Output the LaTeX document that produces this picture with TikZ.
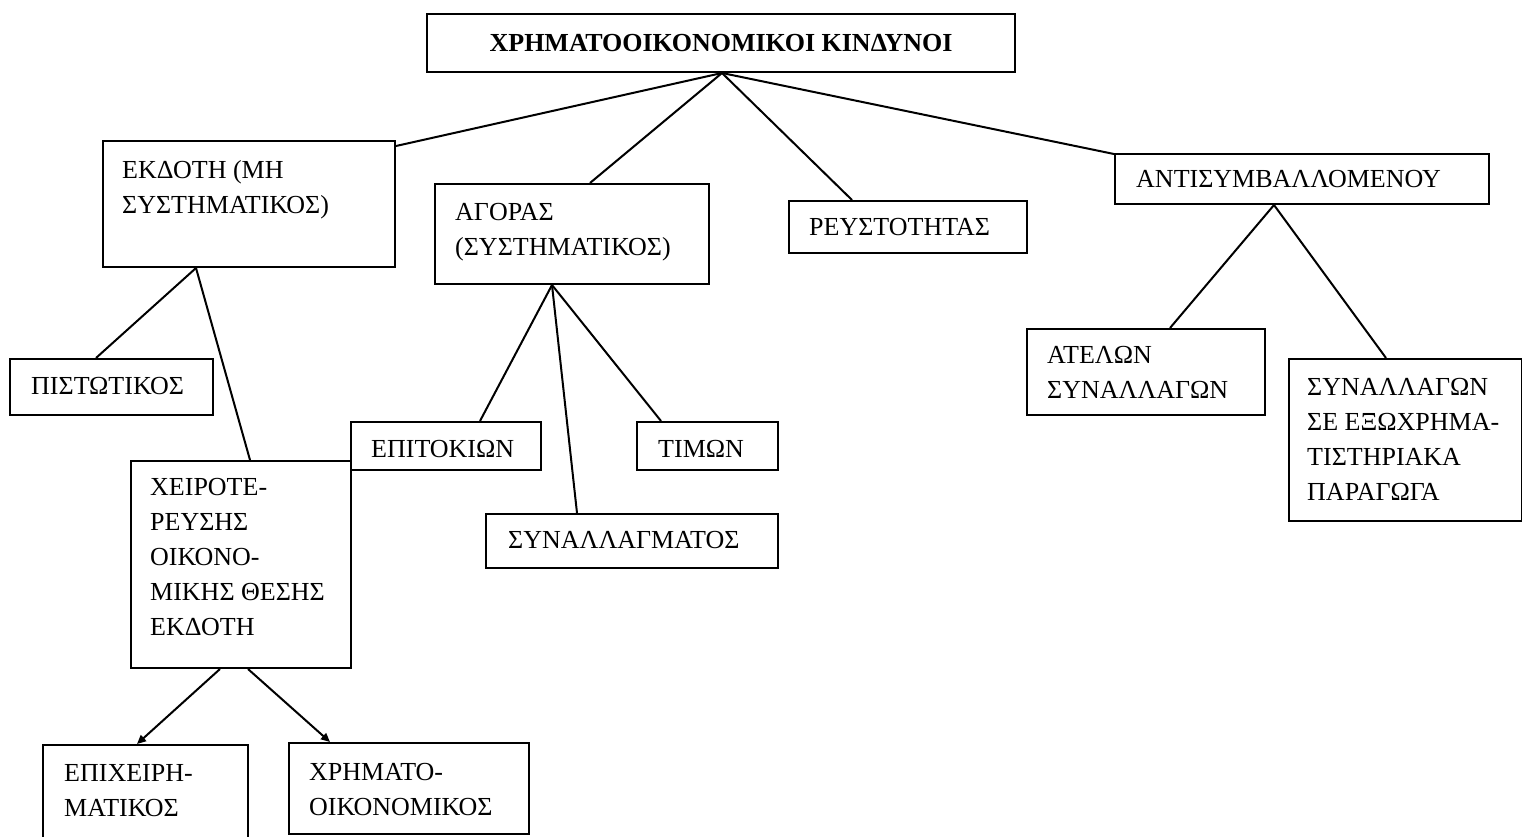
\documentclass[tikz,border=0pt]{standalone}
\usepackage{fontspec}
\setmainfont{Liberation Serif}
\usetikzlibrary{arrows.meta}
\begin{document}
\begin{tikzpicture}[x=1pt,y=-1pt,
  box/.style={draw, line width=2pt, inner sep=0pt, anchor=north west},
  lbl/.style={anchor=north west, inner sep=0pt, align=left, font=\fontsize{26}{35}\selectfont},
  link/.style={line width=2pt},
  arr/.style={line width=2pt, -{Triangle[length=9pt,width=8pt]}}]
\useasboundingbox (0,0) rectangle (1522,837);
% boxes
\node[box, minimum width=588pt, minimum height=58pt, font=\fontsize{26}{35}\selectfont\bfseries] (top) at (426,13) {ΧΡΗΜΑΤΟΟΙΚΟΝΟΜΙΚΟΙ ΚΙΝΔΥΝΟΙ};
\node[box, minimum width=292pt, minimum height=126pt] (ekd) at (102,140) {};
\node[box, minimum width=274pt, minimum height=100pt] (ago) at (434,183) {};
\node[box, minimum width=238pt, minimum height=52pt] (reys) at (788,200) {};
\node[box, minimum width=374pt, minimum height=50pt] (anti) at (1114,153) {};
\node[box, minimum width=203pt, minimum height=56pt] (pist) at (9,358) {};
\node[box, minimum width=220pt, minimum height=207pt] (xeir) at (130,460) {};
\node[box, minimum width=190pt, minimum height=48pt] (epit) at (350,421) {};
\node[box, minimum width=141pt, minimum height=48pt] (timon) at (636,421) {};
\node[box, minimum width=292pt, minimum height=54pt] (synal) at (485,513) {};
\node[box, minimum width=238pt, minimum height=86pt] (atel) at (1026,328) {};
\node[box, minimum width=233pt, minimum height=162pt] (synex) at (1288,358) {};
\node[box, minimum width=205pt, minimum height=101pt] (epix) at (42,744) {};
\node[box, minimum width=240pt, minimum height=91pt] (xrim) at (288,742) {};
% texts
\node[lbl] (ekd-t) at (122,153.5) {\strut ΕΚΔΟΤΗ (ΜΗ\\\strut ΣΥΣΤΗΜΑΤΙΚΟΣ)};
\node[lbl] (ago-t) at (455,195.5) {\strut ΑΓΟΡΑΣ\\\strut (ΣΥΣΤΗΜΑΤΙΚΟΣ)};
\node[lbl] (reys-t) at (809,210.5) {\strut ΡΕΥΣΤΟΤΗΤΑΣ};
\node[lbl] (anti-t) at (1136,162.5) {\strut ΑΝΤΙΣΥΜΒΑΛΛΟΜΕΝΟΥ};
\node[lbl] (pist-t) at (31,369.5) {\strut ΠΙΣΤΩΤΙΚΟΣ};
\node[lbl] (xeir-t) at (150,470.5) {\strut ΧΕΙΡΟΤΕ-\\\strut ΡΕΥΣΗΣ\\\strut ΟΙΚΟΝΟ-\\\strut ΜΙΚΗΣ ΘΕΣΗΣ\\\strut ΕΚΔΟΤΗ};
\node[lbl] (epit-t) at (371,432.5) {\strut ΕΠΙΤΟΚΙΩΝ};
\node[lbl] (timon-t) at (658,432.5) {\strut ΤΙΜΩΝ};
\node[lbl] (synal-t) at (508,523.5) {\strut ΣΥΝΑΛΛΑΓΜΑΤΟΣ};
\node[lbl] (atel-t) at (1047,338.5) {\strut ΑΤΕΛΩΝ\\\strut ΣΥΝΑΛΛΑΓΩΝ};
\node[lbl] (synex-t) at (1307,370.5) {\strut ΣΥΝΑΛΛΑΓΩΝ\\\strut ΣΕ ΕΞΩΧΡΗΜΑ-\\\strut ΤΙΣΤΗΡΙΑΚΑ\\\strut ΠΑΡΑΓΩΓΑ};
\node[lbl] (epix-t) at (64,756.5) {\strut ΕΠΙΧΕΙΡΗ-\\\strut ΜΑΤΙΚΟΣ};
\node[lbl] (xrim-t) at (309,755.5) {\strut ΧΡΗΜΑΤΟ-\\\strut ΟΙΚΟΝΟΜΙΚΟΣ};
% connectors
\coordinate (top-a) at ([xshift=296pt]top.south west);
\draw[link] (top-a) -- ([yshift=-6pt]ekd.north east);
\draw[link] (top-a) -- ([xshift=156pt]ago.north west);
\draw[link] (top-a) -- ([xshift=64pt]reys.north west);
\draw[link] (top-a) -- ([yshift=-1pt]anti.north west);
\coordinate (ekd-a) at ([xshift=94pt]ekd.south west);
\draw[link] (ekd-a) -- ([xshift=87pt]pist.north west);
\draw[link] (ekd-a) -- ([xshift=120pt]xeir.north west);
\coordinate (ago-a) at ([xshift=118pt]ago.south west);
\draw[link] (ago-a) -- ([xshift=130pt]epit.north west);
\draw[link] (ago-a) -- ([xshift=92pt]synal.north west);
\draw[link] (ago-a) -- ([xshift=25pt]timon.north west);
\coordinate (anti-a) at ([xshift=160pt]anti.south west);
\draw[link] (anti-a) -- ([xshift=144pt]atel.north west);
\draw[link] (anti-a) -- ([xshift=98pt]synex.north west);
\draw[arr] ([xshift=90pt]xeir.south west) -- ([xshift=95pt]epix.north west);
\draw[arr] ([xshift=118pt]xeir.south west) -- ([xshift=42pt]xrim.north west);
\end{tikzpicture}
\end{document}
